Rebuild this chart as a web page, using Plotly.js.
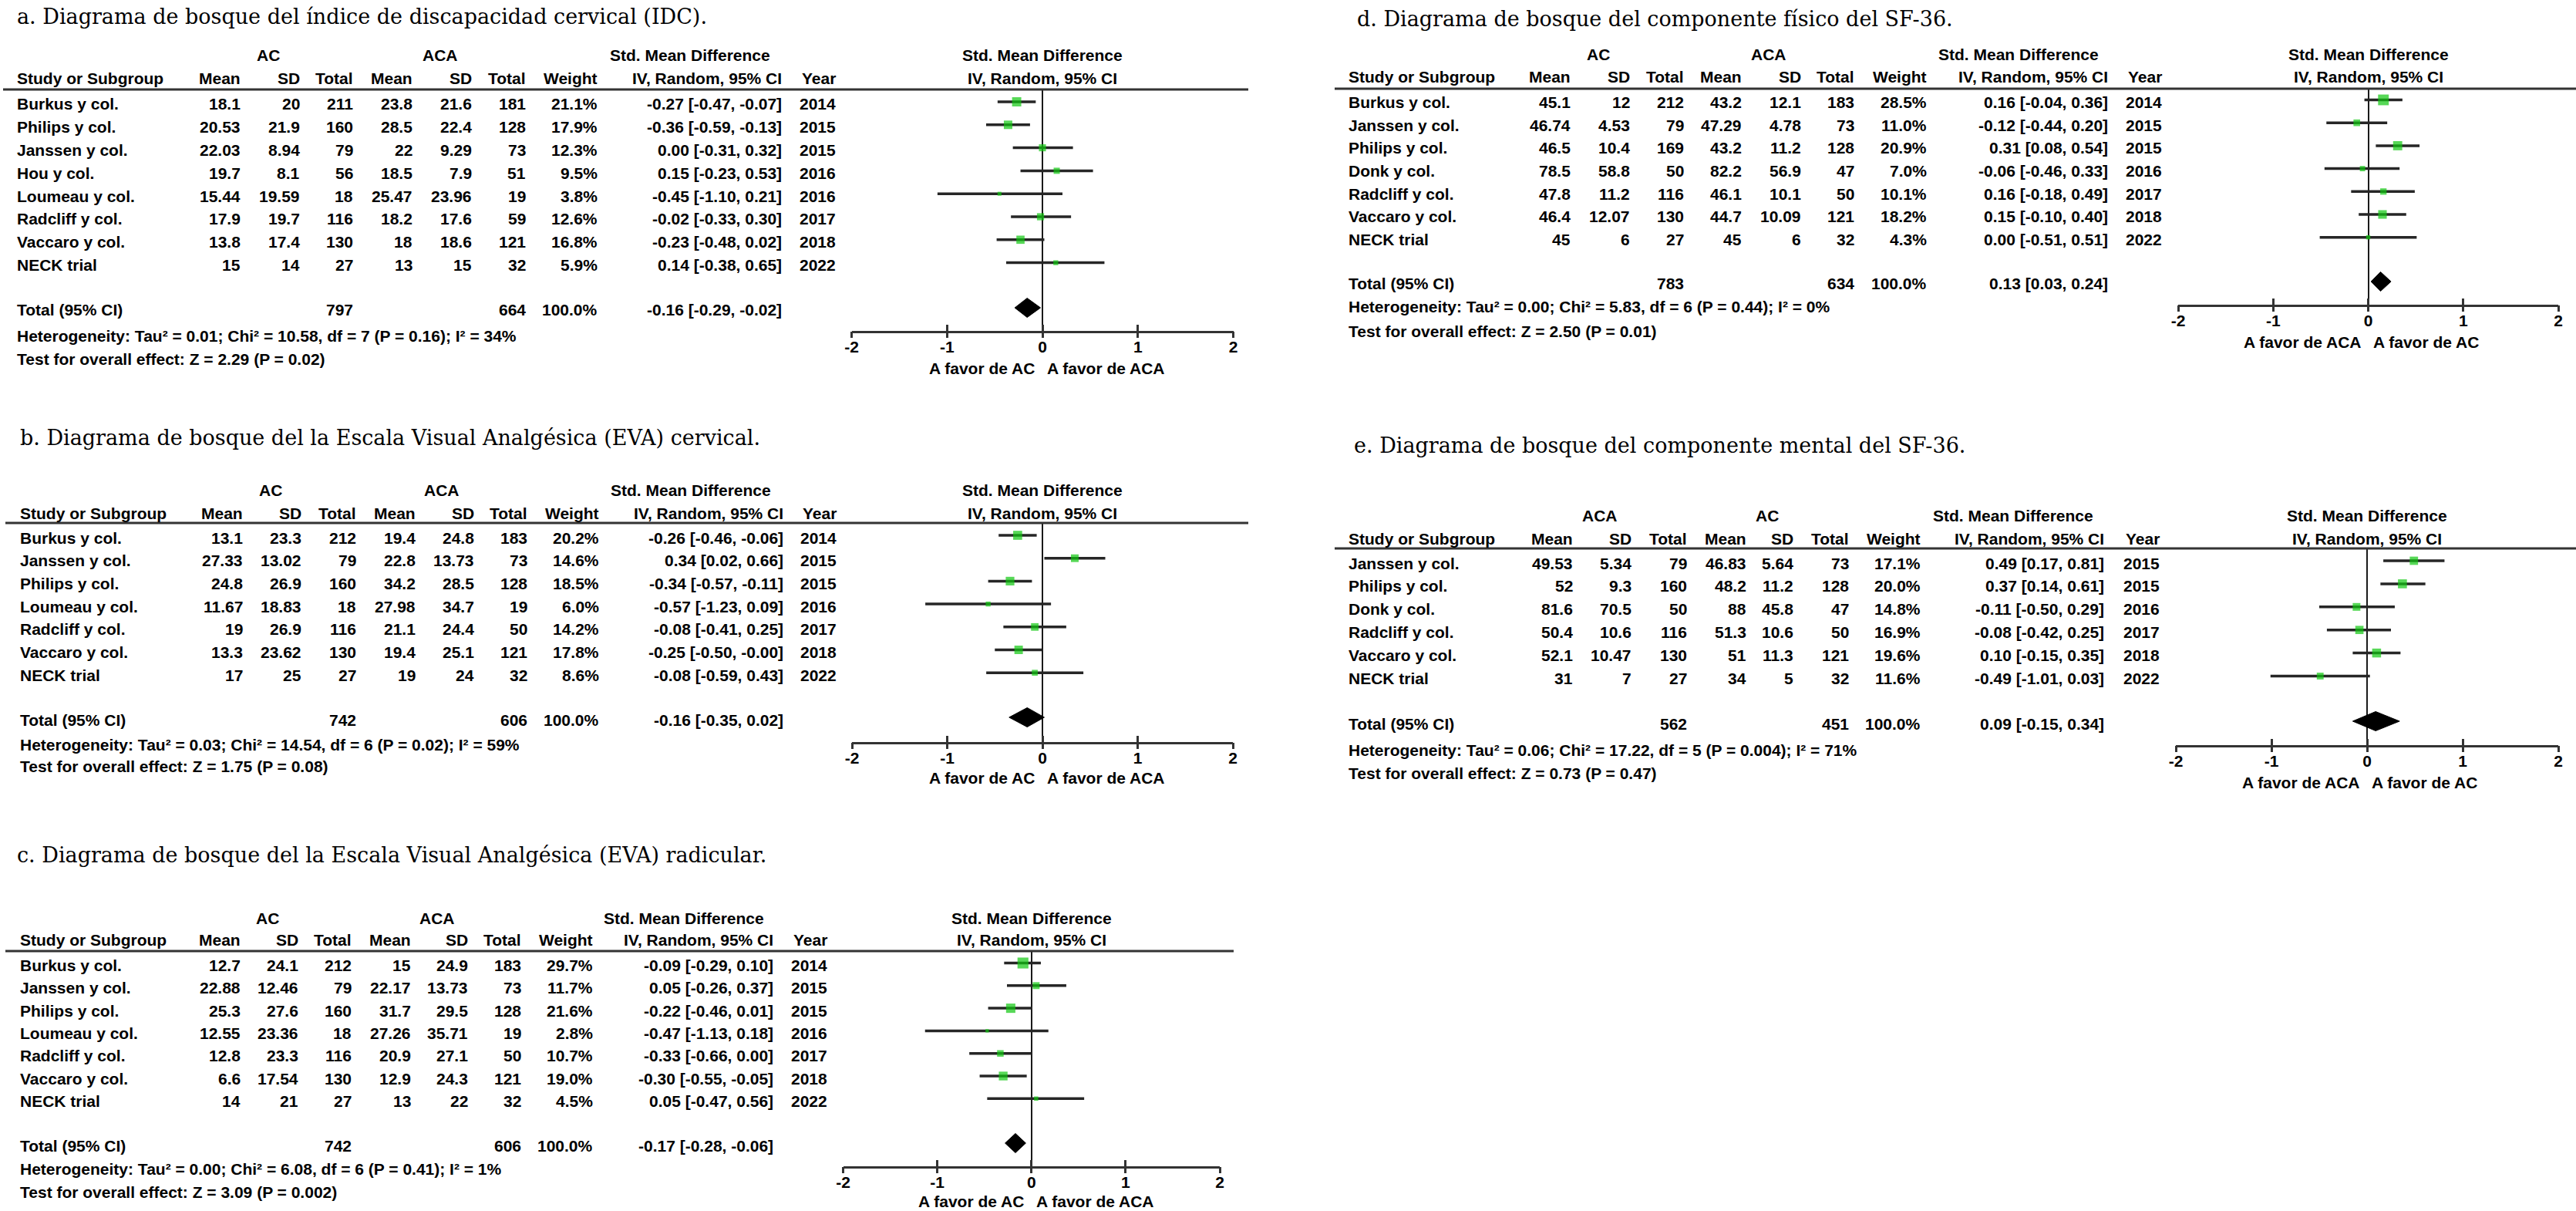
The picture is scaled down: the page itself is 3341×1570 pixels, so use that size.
<!DOCTYPE html>
<html>
<head>
<meta charset="utf-8">
<script src="https://cdn.plot.ly/plotly-3.0.1.min.js"></script>
<style>
html, body { margin: 0; padding: 0; background: #ffffff; }
#chart { width: 3341px; height: 1570px; }
</style>
</head>
<body>
<div id="chart"></div>
<script>
// ================= DATA =================
// Shared
const tickVals = [-2, -1, 0, 1, 2];
const tickText = ['-2', '-1', '0', '1', '2'];
const colHeads = ['Study or Subgroup', 'Mean', 'SD', 'Total', 'Mean', 'SD', 'Total', 'Weight', 'IV, Random, 95% CI', 'Year'];
const smdHead = ['Std. Mean Difference', 'IV, Random, 95% CI'];

// ---- Panel a: IDC ----
const aTitle = 'a. Diagrama de bosque del índice de discapacidad cervical (IDC).';
const aGroups = ['AC', 'ACA'];
const aFavours = ['A favor de AC', 'A favor de ACA'];
const aStudies = ['Burkus y col.', 'Philips y col.', 'Janssen y col.', 'Hou y col.', 'Loumeau y col.', 'Radcliff y col.', 'Vaccaro y col.', 'NECK trial'];
const aMean1 = [18.1, 20.53, 22.03, 19.7, 15.44, 17.9, 13.8, 15];
const aSD1 = [20, 21.9, 8.94, 8.1, 19.59, 19.7, 17.4, 14];
const aN1 = [211, 160, 79, 56, 18, 116, 130, 27];
const aMean2 = [23.8, 28.5, 22, 18.5, 25.47, 18.2, 18, 13];
const aSD2 = [21.6, 22.4, 9.29, 7.9, 23.96, 17.6, 18.6, 15];
const aN2 = [181, 128, 73, 51, 19, 59, 121, 32];
const aWeight = [21.1, 17.9, 12.3, 9.5, 3.8, 12.6, 16.8, 5.9];
const aSMD = [-0.27, -0.36, 0.00, 0.15, -0.45, -0.02, -0.23, 0.14];
const aLow = [-0.47, -0.59, -0.31, -0.23, -1.10, -0.33, -0.48, -0.38];
const aHigh = [-0.07, -0.13, 0.32, 0.53, 0.21, 0.30, 0.02, 0.65];
const aYear = [2014, 2015, 2015, 2016, 2016, 2017, 2018, 2022];
const aTotals = [797, 664];
const aPooled = [-0.16, -0.29, -0.02];
const aStats = ['Heterogeneity: Tau² = 0.01; Chi² = 10.58, df = 7 (P = 0.16); I² = 34%', 'Test for overall effect: Z = 2.29 (P = 0.02)'];

// ---- Panel b: EVA cervical ----
const bTitle = 'b. Diagrama de bosque del la Escala Visual Analgésica (EVA) cervical.';
const bGroups = ['AC', 'ACA'];
const bFavours = ['A favor de AC', 'A favor de ACA'];
const bStudies = ['Burkus y col.', 'Janssen y col.', 'Philips y col.', 'Loumeau y col.', 'Radcliff y col.', 'Vaccaro y col.', 'NECK trial'];
const bMean1 = [13.1, 27.33, 24.8, 11.67, 19, 13.3, 17];
const bSD1 = [23.3, 13.02, 26.9, 18.83, 26.9, 23.62, 25];
const bN1 = [212, 79, 160, 18, 116, 130, 27];
const bMean2 = [19.4, 22.8, 34.2, 27.98, 21.1, 19.4, 19];
const bSD2 = [24.8, 13.73, 28.5, 34.7, 24.4, 25.1, 24];
const bN2 = [183, 73, 128, 19, 50, 121, 32];
const bWeight = [20.2, 14.6, 18.5, 6.0, 14.2, 17.8, 8.6];
const bSMD = [-0.26, 0.34, -0.34, -0.57, -0.08, -0.25, -0.08];
const bLow = [-0.46, 0.02, -0.57, -1.23, -0.41, -0.50, -0.59];
const bHigh = [-0.06, 0.66, -0.11, 0.09, 0.25, -0.004, 0.43];
const bYear = [2014, 2015, 2015, 2016, 2017, 2018, 2022];
const bTotals = [742, 606];
const bPooled = [-0.16, -0.35, 0.02];
const bStats = ['Heterogeneity: Tau² = 0.03; Chi² = 14.54, df = 6 (P = 0.02); I² = 59%', 'Test for overall effect: Z = 1.75 (P = 0.08)'];

// ---- Panel c: EVA radicular ----
const cTitle = 'c. Diagrama de bosque del la Escala Visual Analgésica (EVA) radicular.';
const cGroups = ['AC', 'ACA'];
const cFavours = ['A favor de AC', 'A favor de ACA'];
const cStudies = ['Burkus y col.', 'Janssen y col.', 'Philips y col.', 'Loumeau y col.', 'Radcliff y col.', 'Vaccaro y col.', 'NECK trial'];
const cMean1 = [12.7, 22.88, 25.3, 12.55, 12.8, 6.6, 14];
const cSD1 = [24.1, 12.46, 27.6, 23.36, 23.3, 17.54, 21];
const cN1 = [212, 79, 160, 18, 116, 130, 27];
const cMean2 = [15, 22.17, 31.7, 27.26, 20.9, 12.9, 13];
const cSD2 = [24.9, 13.73, 29.5, 35.71, 27.1, 24.3, 22];
const cN2 = [183, 73, 128, 19, 50, 121, 32];
const cWeight = [29.7, 11.7, 21.6, 2.8, 10.7, 19.0, 4.5];
const cSMD = [-0.09, 0.05, -0.22, -0.47, -0.33, -0.30, 0.05];
const cLow = [-0.29, -0.26, -0.46, -1.13, -0.66, -0.55, -0.47];
const cHigh = [0.10, 0.37, 0.01, 0.18, 0.00, -0.05, 0.56];
const cYear = [2014, 2015, 2015, 2016, 2017, 2018, 2022];
const cTotals = [742, 606];
const cPooled = [-0.17, -0.28, -0.06];
const cStats = ['Heterogeneity: Tau² = 0.00; Chi² = 6.08, df = 6 (P = 0.41); I² = 1%', 'Test for overall effect: Z = 3.09 (P = 0.002)'];

// ---- Panel d: SF-36 físico ----
const dTitle = 'd. Diagrama de bosque del componente físico del SF-36.';
const dGroups = ['AC', 'ACA'];
const dFavours = ['A favor de ACA', 'A favor de AC'];
const dStudies = ['Burkus y col.', 'Janssen y col.', 'Philips y col.', 'Donk y col.', 'Radcliff y col.', 'Vaccaro y col.', 'NECK trial'];
const dMean1 = [45.1, 46.74, 46.5, 78.5, 47.8, 46.4, 45];
const dSD1 = [12, 4.53, 10.4, 58.8, 11.2, 12.07, 6];
const dN1 = [212, 79, 169, 50, 116, 130, 27];
const dMean2 = [43.2, 47.29, 43.2, 82.2, 46.1, 44.7, 45];
const dSD2 = [12.1, 4.78, 11.2, 56.9, 10.1, 10.09, 6];
const dN2 = [183, 73, 128, 47, 50, 121, 32];
const dWeight = [28.5, 11.0, 20.9, 7.0, 10.1, 18.2, 4.3];
const dSMD = [0.16, -0.12, 0.31, -0.06, 0.16, 0.15, 0.00];
const dLow = [-0.04, -0.44, 0.08, -0.46, -0.18, -0.10, -0.51];
const dHigh = [0.36, 0.20, 0.54, 0.33, 0.49, 0.40, 0.51];
const dYear = [2014, 2015, 2015, 2016, 2017, 2018, 2022];
const dTotals = [783, 634];
const dPooled = [0.13, 0.03, 0.24];
const dStats = ['Heterogeneity: Tau² = 0.00; Chi² = 5.83, df = 6 (P = 0.44); I² = 0%', 'Test for overall effect: Z = 2.50 (P = 0.01)'];

// ---- Panel e: SF-36 mental ----
const eTitle = 'e. Diagrama de bosque del componente mental del SF-36.';
const eGroups = ['ACA', 'AC'];
const eFavours = ['A favor de ACA', 'A favor de AC'];
const eStudies = ['Janssen y col.', 'Philips y col.', 'Donk y col.', 'Radcliff y col.', 'Vaccaro y col.', 'NECK trial'];
const eMean1 = [49.53, 52, 81.6, 50.4, 52.1, 31];
const eSD1 = [5.34, 9.3, 70.5, 10.6, 10.47, 7];
const eN1 = [79, 160, 50, 116, 130, 27];
const eMean2 = [46.83, 48.2, 88, 51.3, 51, 34];
const eSD2 = [5.64, 11.2, 45.8, 10.6, 11.3, 5];
const eN2 = [73, 128, 47, 50, 121, 32];
const eWeight = [17.1, 20.0, 14.8, 16.9, 19.6, 11.6];
const eSMD = [0.49, 0.37, -0.11, -0.08, 0.10, -0.49];
const eLow = [0.17, 0.14, -0.50, -0.42, -0.15, -1.01];
const eHigh = [0.81, 0.61, 0.29, 0.25, 0.35, 0.03];
const eYear = [2015, 2015, 2016, 2017, 2018, 2022];
const eTotals = [562, 451];
const ePooled = [0.09, -0.15, 0.34];
const eStats = ['Heterogeneity: Tau² = 0.06; Chi² = 17.22, df = 5 (P = 0.004); I² = 71%', 'Test for overall effect: Z = 0.73 (P = 0.47)'];

// ================= LAYOUT GEOMETRY (pixels) =================
const W = 3341, H = 1570;
const FONT = 'Liberation Sans, Arial, Helvetica, sans-serif';
const SERIF = 'DejaVu Serif, Liberation Serif, serif';
const TXT = 21, TITLE = 27;
const GREEN = '#10c810';
const INK = '#000000';
const textDy = 3;
const markK = 2.6;
const diamondHalf = 12.5;

const panels = [
  { d: { title: aTitle, groups: aGroups, favours: aFavours, studies: aStudies, m1: aMean1, s1: aSD1, n1: aN1, m2: aMean2, s2: aSD2, n2: aN2, w: aWeight, est: aSMD, lo: aLow, hi: aHigh, yr: aYear, tot: aTotals, pooled: aPooled, stats: aStats },
    g: { titleX: 22, titleY: 22, cols: [22, 312, 389, 458, 535, 612, 682, 775, 1014, 1084], grp: [348, 571, 895], grpY: 72, headY: 102, lineY: 116, lineX: [4, 1619], row0: 132, step: 29.8, totalY: 399, statsY: [435, 465], xm2: 1104.5, xp2: 1599.5, axisY: 429, favorY: 477 } },
  { d: { title: bTitle, groups: bGroups, favours: bFavours, studies: bStudies, m1: bMean1, s1: bSD1, n1: bN1, m2: bMean2, s2: bSD2, n2: bN2, w: bWeight, est: bSMD, lo: bLow, hi: bHigh, yr: bYear, tot: bTotals, pooled: bPooled, stats: bStats },
    g: { titleX: 26, titleY: 567, cols: [26, 315, 391, 462, 539, 615, 684, 777, 1016, 1085], grp: [351, 573, 896], grpY: 635, headY: 665, lineY: 678, lineX: [7, 1619], row0: 694, step: 29.7, totalY: 930, statsY: [965, 993], xm2: 1105, xp2: 1599, axisY: 962, favorY: 1008 } },
  { d: { title: cTitle, groups: cGroups, favours: cFavours, studies: cStudies, m1: cMean1, s1: cSD1, n1: cN1, m2: cMean2, s2: cSD2, n2: cN2, w: cWeight, est: cSMD, lo: cLow, hi: cHigh, yr: cYear, tot: cTotals, pooled: cPooled, stats: cStats },
    g: { titleX: 22, titleY: 1108, cols: [26, 312, 387, 456, 533, 607, 676, 769, 1003, 1073], grp: [347, 567, 887], grpY: 1190, headY: 1218, lineY: 1233, lineX: [7, 1600], row0: 1248.5, step: 29.3, totalY: 1482, statsY: [1515, 1545], xm2: 1093.5, xp2: 1582, axisY: 1512, favorY: 1557 } },
  { d: { title: dTitle, groups: dGroups, favours: dFavours, studies: dStudies, m1: dMean1, s1: dSD1, n1: dN1, m2: dMean2, s2: dSD2, n2: dN2, w: dWeight, est: dSMD, lo: dLow, hi: dHigh, yr: dYear, tot: dTotals, pooled: dPooled, stats: dStats },
    g: { titleX: 1760, titleY: 25, cols: [1749, 2036.5, 2113.5, 2184, 2258.6, 2335.7, 2405, 2498.6, 2734, 2804], grp: [2073, 2294, 2618], grpY: 71, headY: 100, lineY: 115, lineX: [1731, 3341], row0: 129.5, step: 29.7, totalY: 365, statsY: [398, 430], xm2: 2825, xp2: 3318, axisY: 395, favorY: 443 } },
  { d: { title: eTitle, groups: eGroups, favours: eFavours, studies: eStudies, m1: eMean1, s1: eSD1, n1: eN1, m2: eMean2, s2: eSD2, n2: eN2, w: eWeight, est: eSMD, lo: eLow, hi: eHigh, yr: eYear, tot: eTotals, pooled: ePooled, stats: eStats },
    g: { titleX: 1756, titleY: 577, cols: [1749, 2040, 2115.6, 2187.6, 2264.6, 2326, 2398, 2491, 2729, 2801], grp: [2075, 2292, 2611], grpY: 668, headY: 698, lineY: 711, lineX: [1731, 3341], row0: 727, step: 29.9, totalY: 935, statsY: [972, 1002], xm2: 2822, xp2: 3318, axisY: 966, favorY: 1014 } }
];

// ================= BUILD =================
const px = x => x / W;
const py = y => 1 - y / H;
const traces = [], annotations = [], shapes = [];
const layout = {
  width: W, height: H,
  margin: { l: 0, r: 0, t: 0, b: 0, pad: 0 },
  paper_bgcolor: '#ffffff', plot_bgcolor: 'rgba(0,0,0,0)',
  showlegend: false, hovermode: false,
  font: { family: FONT, size: TXT, color: INK },
  annotations: annotations, shapes: shapes
};

function txt(x, y, text, anchor, font) {
  annotations.push({
    xref: 'paper', yref: 'paper', x: px(x), y: py(y), text: text,
    xanchor: anchor, yanchor: 'middle', showarrow: false,
    borderpad: 0, borderwidth: 0,
    font: Object.assign({ family: FONT, size: TXT, color: INK, weight: 'bold' }, font || {})
  });
}
const num = v => String(v);
const ci = (e, l, h) => e.toFixed(2) + ' [' + l.toFixed(2) + ', ' + h.toFixed(2) + ']';

panels.forEach((p, k) => {
  const d = p.d, g = p.g, n = k + 1;
  const xr = n === 1 ? 'x' : 'x' + n;
  const xa = n === 1 ? 'xaxis' : 'xaxis' + n;
  const yr = n === 1 ? 'y' : 'y' + n;
  const ya = n === 1 ? 'yaxis' : 'yaxis' + n;
  const xo = 'xaxis' + (n + 5), xor = 'x' + (n + 5);
  const c = g.cols;
  const x0 = (g.xm2 + g.xp2) / 2;
  const rowY = i => g.row0 + i * g.step;

  // Title
  txt(g.titleX, g.titleY, d.title, 'left', { family: SERIF, size: TITLE, weight: 'normal' });

  // Group headers
  txt(g.grp[0], g.grpY, d.groups[0], 'center');
  txt(g.grp[1], g.grpY, d.groups[1], 'center');
  txt(g.grp[2], g.grpY, smdHead[0], 'center');
  // Column headers
  txt(c[0], g.headY, colHeads[0], 'left');
  for (let j = 1; j < colHeads.length; j++) txt(c[j], g.headY, colHeads[j], 'right');
  // Plot headers
  txt(x0, g.grpY, smdHead[0], 'center');
  txt(x0, g.headY, smdHead[1], 'center');

  // Header rule
  shapes.push({ type: 'line', xref: 'paper', yref: 'paper', x0: px(g.lineX[0]), x1: px(g.lineX[1]), y0: py(g.lineY), y1: py(g.lineY), line: { color: '#333333', width: 3 } });

  // Study rows
  d.studies.forEach((s, i) => {
    const y = rowY(i) + textDy;
    txt(c[0], y, s, 'left');
    txt(c[1], y, num(d.m1[i]), 'right');
    txt(c[2], y, num(d.s1[i]), 'right');
    txt(c[3], y, num(d.n1[i]), 'right');
    txt(c[4], y, num(d.m2[i]), 'right');
    txt(c[5], y, num(d.s2[i]), 'right');
    txt(c[6], y, num(d.n2[i]), 'right');
    txt(c[7], y, d.w[i].toFixed(1) + '%', 'right');
    txt(c[8], y, ci(d.est[i], d.lo[i], d.hi[i]), 'right');
    txt(c[9], y, num(d.yr[i]), 'right');
  });

  // Total row
  const ty = g.totalY + textDy;
  txt(c[0], ty, 'Total (95% CI)', 'left');
  txt(c[3], ty, num(d.tot[0]), 'right');
  txt(c[6], ty, num(d.tot[1]), 'right');
  const wsum = d.w.reduce((a, b) => a + b, 0);
  txt(c[7], ty, Math.round(wsum).toFixed(1) + '%', 'right');
  txt(c[8], ty, ci(d.pooled[0], d.pooled[1], d.pooled[2]), 'right');

  // Heterogeneity and overall test
  txt(c[0], g.statsY[0], d.stats[0], 'left');
  txt(c[0], g.statsY[1], d.stats[1], 'left');

  // Favours labels
  txt(x0 - 10, g.favorY, d.favours[0], 'right');
  txt(x0 + 6, g.favorY, d.favours[1], 'left');

  // Axes
  const yBot = (g.axisY - g.row0) / g.step;
  const yTop = (g.lineY - g.row0) / g.step;
  layout[xa] = {
    domain: [px(g.xm2), px(g.xp2)], range: [-2, 2], anchor: yr,
    showline: true, linecolor: '#333333', linewidth: 3,
    ticks: 'inside', ticklen: 8, tickwidth: 3, tickcolor: '#333333',
    tickmode: 'array', tickvals: tickVals, ticktext: tickText,
    tickfont: { family: FONT, size: TXT, color: INK, weight: 'bold' },
    showgrid: false, zeroline: true, zerolinecolor: '#1a1a1a', zerolinewidth: 2,
    fixedrange: true, automargin: false
  };
  layout[xo] = {
    overlaying: xr, anchor: yr, range: [-2, 2],
    showline: false, ticks: 'outside', ticklen: 8, tickwidth: 3, tickcolor: '#333333',
    tickmode: 'array', tickvals: tickVals, showticklabels: false,
    showgrid: false, zeroline: false, fixedrange: true, automargin: false
  };
  layout[ya] = {
    domain: [py(g.axisY), py(g.lineY)], range: [yBot, yTop],
    visible: false, showgrid: false, zeroline: false, fixedrange: true
  };

  const idx = d.est.map((_, i) => i);
  // Study estimates with CIs
  traces.push({
    type: 'scatter', mode: 'markers', xaxis: xr, yaxis: yr,
    x: d.est, y: idx,
    marker: { symbol: 'square', size: d.w.map(w => markK * Math.sqrt(w)), color: GREEN, line: { width: 0 } },
    error_x: { type: 'data', symmetric: false, array: d.hi.map((h, i) => h - d.est[i]), arrayminus: d.lo.map((l, i) => d.est[i] - l), color: '#262626', thickness: 3.5, width: 0 },
    cliponaxis: false, hoverinfo: 'skip', showlegend: false
  });
  // Pooled diamond
  const tIdx = (g.totalY - g.row0) / g.step;
  const dh = diamondHalf / g.step;
  traces.push({
    type: 'scatter', mode: 'lines', xaxis: xr, yaxis: yr,
    x: [d.pooled[1], d.pooled[0], d.pooled[2], d.pooled[0], d.pooled[1]],
    y: [tIdx, tIdx - dh, tIdx, tIdx + dh, tIdx],
    fill: 'toself', fillcolor: '#000000', line: { color: '#000000', width: 1 },
    cliponaxis: false, hoverinfo: 'skip', showlegend: false
  });
  // Carrier for the overlaid tick axis
  traces.push({ type: 'scatter', mode: 'markers', xaxis: xor, yaxis: yr, x: [0], y: [yTop], marker: { size: 1, opacity: 0 }, hoverinfo: 'skip', showlegend: false });
});

Plotly.newPlot('chart', traces, layout, { staticPlot: true, displayModeBar: false, responsive: false });
</script>
</body>
</html>
